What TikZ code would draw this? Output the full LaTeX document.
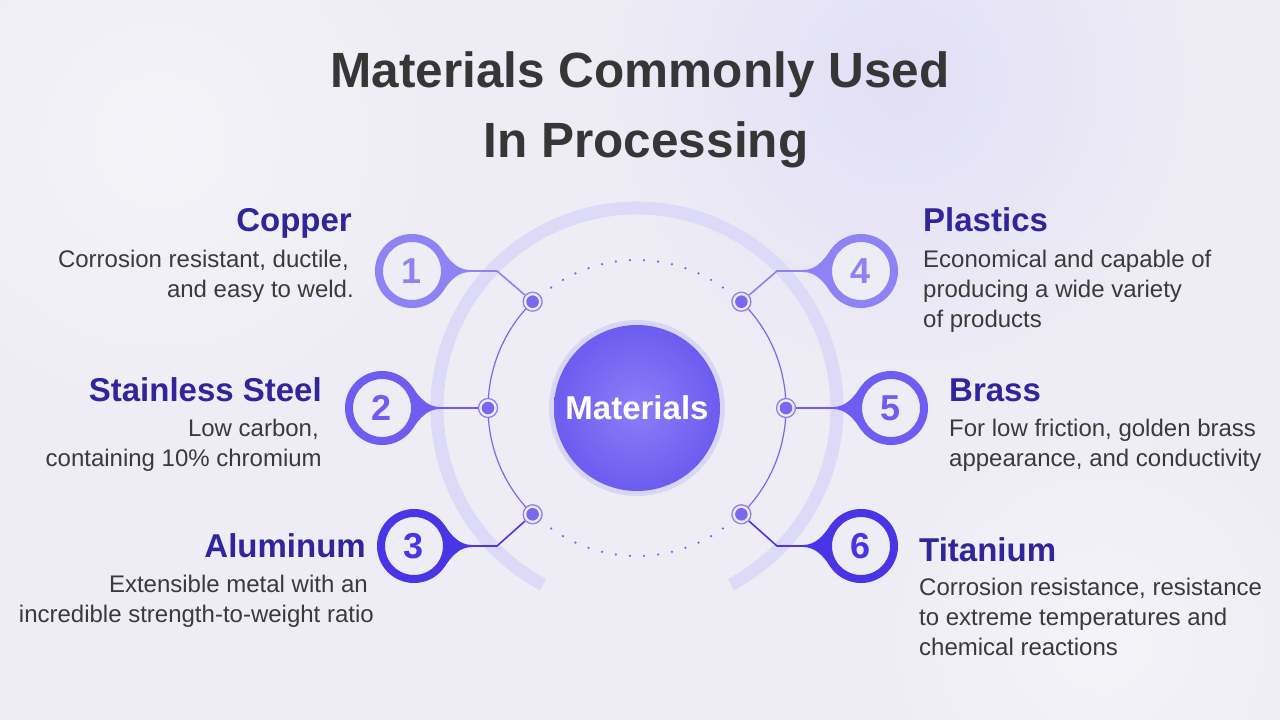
\documentclass[tikz,border=0pt]{standalone}
\usepackage{fontspec}
\setmainfont{Liberation Sans}
\usetikzlibrary{calc}
\definecolor{bgc}{HTML}{EEEDF5}
\definecolor{ca}{HTML}{8E82F5}
\definecolor{cb}{HTML}{6F5CF0}
\definecolor{cc}{HTML}{4A35E6}
\definecolor{dotc}{HTML}{7A69F0}
\definecolor{dotr}{HTML}{8D80F2}
\definecolor{arcc}{HTML}{DDDAF8}
\definecolor{hd}{HTML}{31259B}
\definecolor{bodyc}{HTML}{3A3A3A}
\definecolor{titc}{HTML}{363636}
\definecolor{sphin}{RGB}{140,126,247}
\definecolor{sphout}{RGB}{108,92,240}
\definecolor{glowc}{RGB}{200,192,250}
\definecolor{hazec}{RGB}{226,223,246}
\definecolor{lightc}{RGB}{244,243,248}
\pgfdeclarelayer{back}
\pgfdeclarelayer{lines}
\pgfsetlayers{back,lines,main}
\tikzset{
  numc/.style={circle, draw=#1, line width=8pt, fill=bgc, minimum size=66pt, inner sep=0pt, text=#1, font=\fontsize{36}{36}\selectfont\bfseries},
  dotn/.style={circle, draw=dotr, line width=1.3pt, fill=bgc, minimum size=19pt, inner sep=0pt,
    path picture={\fill[dotc] (path picture bounding box.center) circle (6.3pt);}},
  conn/.style={draw=#1, line width=1.6pt},
  titl/.style={anchor=base, text=titc, font=\fontsize{49.5}{49.5}\selectfont\bfseries, inner sep=0pt},
  head/.style={text=hd, font=\fontsize{33}{33}\selectfont\bfseries, inner sep=0pt},
  bod/.style={text=bodyc, font=\fontsize{24}{24}\selectfont, inner sep=0pt},
}
\newcommand\myneck[3]{%
  \fill[#3] ($(#1.center)+(#2*30.3,-21.2)$) .. controls ($(#1.center)+(#2*37,-11)$) and ($(#1.center)+(#2*45,-1)$) .. ($(#1.center)+(#2*58,-1)$) -- ($(#1.center)+(#2*58,1)$) .. controls ($(#1.center)+(#2*45,1)$) and ($(#1.center)+(#2*37,11)$) .. ($(#1.center)+(#2*30.3,21.2)$) -- (#1.center) -- cycle;}
\begin{document}
\begin{tikzpicture}[x=1pt,y=-1pt]
\useasboundingbox (0,0) rectangle (1280,720);
% title
\node[titl] (t1) at (640,87) {Materials Commonly Used};
\node[titl] (t2) at (646,157) {In Processing};
% sphere
\node[circle, minimum size=166pt, inner sep=0pt, inner color=sphin, outer color=sphout, text=white, font=\fontsize{33}{33}\selectfont\bfseries] (mat) at (637,408) {Materials};
% numbered circles
\node[numc=ca] (n1) at (412,271) {1};
\node[numc=cb] (n2) at (382,408) {2};
\node[numc=cc] (n3) at (414,546) {3};
\node[numc=ca] (n4) at (861,271) {4};
\node[numc=cb] (n5) at (891,408) {5};
\node[numc=cc] (n6) at (861,546) {6};
% dots
\node[dotn] (d1) at (532.6,301.7) {};
\node[dotn] (d2) at (488,408) {};
\node[dotn] (d3) at (532.6,514.3) {};
\node[dotn] (d4) at (741.4,301.7) {};
\node[dotn] (d5) at (786,408) {};
\node[dotn] (d6) at (741.4,514.3) {};
% bends
\coordinate (k1) at (497,271);
\coordinate (k3) at (497,546);
\coordinate (k4) at (777,271);
\coordinate (k6) at (777,546);
% texts left
\node[head, anchor=base east] (h1) at (352,231) {Copper};
\node[bod, anchor=base east] (b1a) at (349,267) {Corrosion resistant, ductile,};
\node[bod, anchor=base east] (b1b) at (354,297) {and easy to weld.};
\node[head, anchor=base east] (h2) at (322,401) {Stainless Steel};
\node[bod, anchor=base east] (b2a) at (319,436) {Low carbon,};
\node[bod, anchor=base east] (b2b) at (322,466) {containing 10\% chromium};
\node[head, anchor=base east] (h3) at (366,557) {Aluminum};
\node[bod, anchor=base east] (b3a) at (368,592) {Extensible metal with an};
\node[bod, anchor=base east] (b3b) at (374,622) {incredible strength-to-weight ratio};
% texts right
\node[head, anchor=base west] (h4) at (923,231) {Plastics};
\node[bod, anchor=base west] (b4a) at (923,267) {Economical and capable of};
\node[bod, anchor=base west] (b4b) at (923,297) {producing a wide variety};
\node[bod, anchor=base west] (b4c) at (923,327) {of products};
\node[head, anchor=base west] (h5) at (949,401) {Brass};
\node[bod, anchor=base west] (b5a) at (949,436) {For low friction, golden brass};
\node[bod, anchor=base west] (b5b) at (949,466) {appearance, and conductivity};
\node[head, anchor=base west] (h6) at (919,561) {Titanium};
\node[bod, anchor=base west] (b6a) at (919,595) {Corrosion resistance, resistance};
\node[bod, anchor=base west] (b6b) at (919,625) {to extreme temperatures and};
\node[bod, anchor=base west] (b6c) at (919,655) {chemical reactions};
\begin{pgfonlayer}{back}
  \fill[bgc] (0,0) rectangle (1280,720);
  \shade[inner color=lightc, outer color=bgc] (160,140) circle (280);
  \shade[inner color=lightc, outer color=bgc] (1100,640) circle (220);
  \shade[inner color=hazec, outer color=bgc] (900,80) circle (320);
\end{pgfonlayer}
\begin{pgfonlayer}{lines}
  % outer thick arc
  \draw[arcc, line width=13pt] (mat.center) ++(-242:200) arc[start angle=-242, end angle=62, radius=200];
  % glow
  \fill[glowc, opacity=0.5] (mat.center) circle (88);
  % thin arcs
  \draw[dotc, line width=1.2pt] (d1.center) arc[start angle=-134.5, end angle=-225.5, radius=149];
  \draw[dotc, line width=1.2pt] (d4.center) arc[start angle=-45.5, end angle=45.5, radius=149];
  % dotted arcs
  \foreach \k in {0,...,13} {
    \fill[dotc] ({637+148*cos(125.5-5.46*\k)},{408-148*sin(125.5-5.46*\k)}) circle (1.3);
    \fill[dotc] ({637+148*cos(125.5-5.46*\k)},{408+148*sin(125.5-5.46*\k)}) circle (1.3);
  }
  % necks
  \myneck{n1}{1}{ca}
  \myneck{n2}{1}{cb}
  \myneck{n3}{1}{cc}
  \myneck{n4}{-1}{ca}
  \myneck{n5}{-1}{cb}
  \myneck{n6}{-1}{cc}
  % connectors
  \draw[conn=ca] (n1) -- (k1) -- (d1);
  \draw[conn=cb] (n2) -- (d2);
  \draw[conn=cc] (n3) -- (k3) -- (d3);
  \draw[conn=ca] (n4) -- (k4) -- (d4);
  \draw[conn=cb] (n5) -- (d5);
  \draw[conn=cc] (n6) -- (k6) -- (d6);
\end{pgfonlayer}
\end{tikzpicture}
\end{document}
